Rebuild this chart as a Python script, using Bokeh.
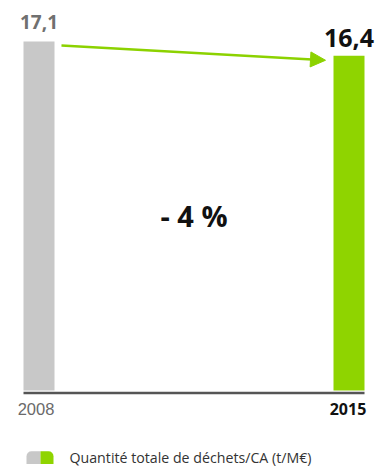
from bokeh.plotting import figure
from bokeh.models import Range1d, Arrow, NormalHead, ColumnDataSource
from bokeh.core.properties import value
from bokeh.embed import file_html
from bokeh.resources import INLINE

# ---- data ----
years = ["2008", "2015"]
values = [17.1, 16.4]
bar_colors = ["#c8c8c8", "#8fd400"]
legend_label = "Quantité totale de déchets/CA (t/M€)"

# ---- layout helpers ----
PX_PER_UNIT = 20.41
W, H = 382, 471
base_px = H - 390  # pixels from frame bottom to y=0
y0 = -base_px / PX_PER_UNIT
y1 = (H - base_px) / PX_PER_UNIT

xs = [38.5 + i * 310 for i in range(len(years))]
bw = 31

p = figure(width=W, height=H, output_backend="svg", toolbar_location=None,
           x_range=Range1d(0, W), y_range=Range1d(y0, y1), min_border=0)
p.axis.visible = False
p.grid.visible = False
p.outline_line_color = None
p.background_fill_color = "white"
p.border_fill_color = "white"

src = ColumnDataSource(dict(x=xs, top=values, color=bar_colors, year=years,
                            lab=[f"{v:.1f}".replace(".", ",") for v in values]))
p.vbar(x="x", top="top", bottom=0, width=bw, fill_color="color", line_color=None, source=src)

# baseline
p.segment(x0=[xs[0] - bw / 2], x1=[xs[-1] + bw / 2], y0=[-0.12], y1=[-0.12],
          line_color="#555555", line_width=2.5)

# value labels
p.text(x=[xs[0]], y=[values[0]], text=[src.data["lab"][0]], text_align="center",
       text_baseline="bottom", y_offset=-12, text_font=value("Open Sans"),
       text_font_style="bold", text_font_size="19px", text_color="#707070")
p.text(x=[xs[1]], y=[values[1]], text=[src.data["lab"][1]], text_align="center",
       text_baseline="bottom", y_offset=-9, text_font=value("Open Sans"),
       text_font_style="bold", text_font_size="25px", text_color="#111111")

# year labels
p.text(x=[xs[0]], y=[0], text=[years[0]], text_align="center", text_baseline="top",
       x_offset=-3, y_offset=12, text_font=value("Liberation Sans"),
       text_font_size="16.5px", text_color="#6a6a6a")
p.text(x=[xs[1]], y=[0], text=[years[1]], text_align="center", text_baseline="top",
       x_offset=-1, y_offset=12, text_font=value("Open Sans"), text_font_style="bold",
       text_font_size="16px", text_color="#111111")

# change label
pct = round((values[1] - values[0]) / values[0] * 100)
sign = "-" if pct < 0 else "+"
p.text(x=[(xs[0] + xs[1]) / 2], y=[(values[0] + values[1]) / 4],
       text=[f"{sign} {abs(pct)} %"], text_align="center", text_baseline="middle",
       y_offset=-4, text_font=value("Open Sans"), text_font_style="bold",
       text_font_size="29px", text_color="#111111")

# arrow
green = "#8cd200"
p.add_layout(Arrow(end=NormalHead(size=15, fill_color=green, line_color=green),
                   x_start=xs[0] + bw / 2 + 7, y_start=values[0] - 0.2,
                   x_end=xs[1] - bw / 2 - 8, y_end=values[1] - 0.22,
                   line_color=green, line_width=2.5))

# legend
ly_b, ly_t = -3.6, -2.98
p.quad(left=[26], right=[40], bottom=[ly_b], top=[ly_t], fill_color=bar_colors[0],
       line_color=None, border_radius=(5, 0, 0, 0))
p.quad(left=[40], right=[53], bottom=[ly_b], top=[ly_t], fill_color=bar_colors[1],
       line_color=None, border_radius=(0, 5, 0, 0))
p.text(x=[69], y=[(ly_b + ly_t) / 2], text=[legend_label], text_align="left",
       text_baseline="middle", text_font=value("Open Sans"), text_font_size="14.2px",
       text_color="#333333")

open("out.html", "w").write(file_html(p, INLINE))
